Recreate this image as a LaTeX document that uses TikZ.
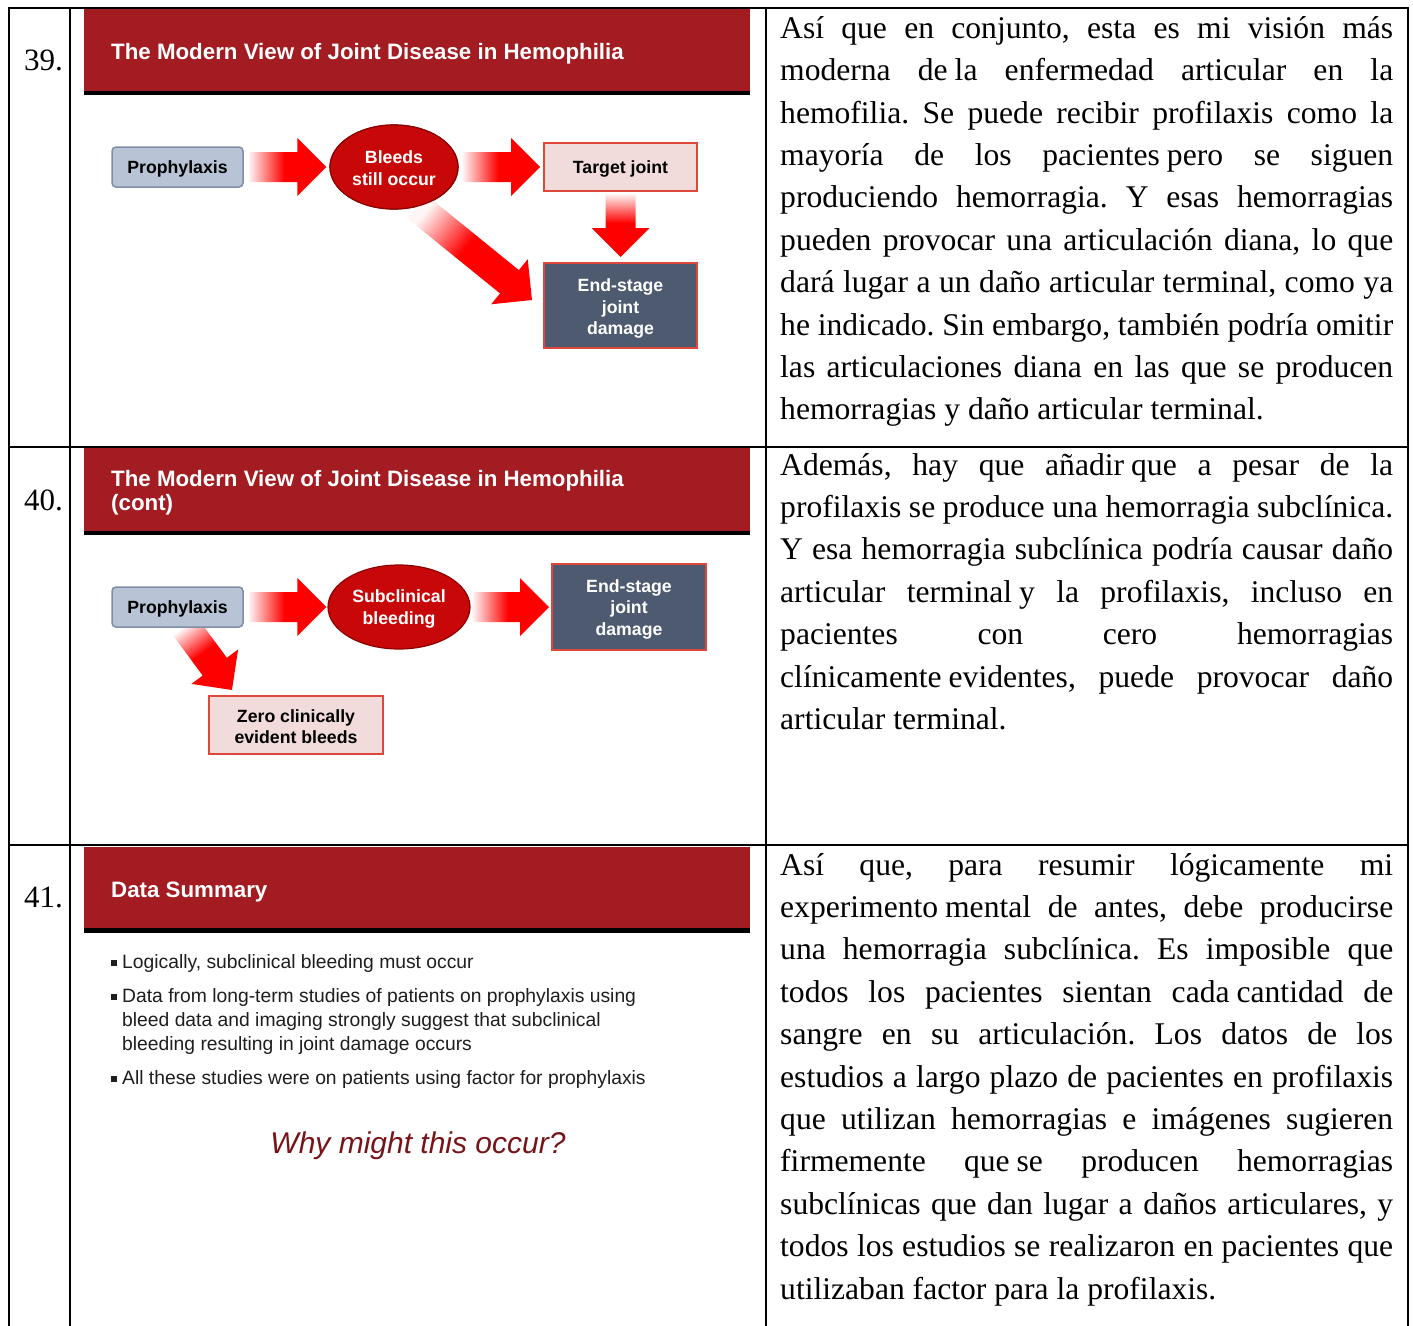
\documentclass[tikz,border=0pt]{standalone}
\usepackage{fontspec}
\setmainfont{Liberation Serif}
\newfontfamily\arial{Liberation Sans}
\usetikzlibrary{calc,shapes.geometric}
\frenchspacing
\definecolor{bandred}{RGB}{162,28,34}
\definecolor{boxblue}{RGB}{184,196,214}
\definecolor{boxblueline}{RGB}{128,142,163}
\definecolor{pinkfill}{RGB}{242,220,219}
\definecolor{boxred}{RGB}{222,72,60}
\definecolor{slate}{RGB}{77,90,112}
\definecolor{bleedred}{RGB}{200,8,8}
\definecolor{bleedline}{RGB}{140,0,0}
\definecolor{arrred}{RGB}{255,0,0}
\definecolor{whyred}{RGB}{120,20,24}
\definecolor{bullettext}{RGB}{30,30,30}
\pgfdeclarehorizontalshading{fadearrow}{100bp}{color(0bp)=(arrred!4); color(25bp)=(arrred!4); color(36bp)=(arrred!50); color(48bp)=(arrred); color(100bp)=(arrred)}
\newcommand{\J}[1]{\makebox[613pt][s]{#1}}
\newcommand{\dn}[2]{\raisebox{-#1}[\height][\depth]{#2}}
\newcommand{\fatarrow}[3]{%
  \coordinate (fah) at ($(#2)!29pt!(#1)$);
  \shade[shading=fadearrow, shading angle=#3]
    ($(#1)!15pt!90:(#2)$) -- ($(fah)!15pt!90:(#2)$) -- ($(fah)!29pt!90:(#2)$) -- (#2)
    -- ($(fah)!29pt!-90:(#2)$) -- ($(fah)!15pt!-90:(#2)$) -- ($(#1)!15pt!-90:(#2)$) -- cycle;
}
\newcommand{\bul}{\makebox[11pt][l]{\rule[2.5pt]{5.5pt}{5.5pt}}}
\tikzset{
  sp/.style={anchor=base west, inner sep=0pt, font=\fontsize{31.6}{38}\selectfont},
  num/.style={anchor=base west, inner sep=0pt, font=\fontsize{31}{38}\selectfont},
  band/.style={fill=bandred},
  bandline/.style={fill=black},
  slidetitle/.style={anchor=base west, inner sep=0pt, text=white, font=\arial\bfseries\fontsize{22.3}{24}\selectfont},
  lbl/.style={font=\arial\bfseries\fontsize{17.7}{21.5}\selectfont, align=center, inner sep=0pt},
  probox/.style={lbl, rounded corners=4pt, fill=boxblue, draw=boxblueline, line width=1.5pt, minimum width=131pt, minimum height=40pt},
  pinkbox/.style={lbl, fill=pinkfill, draw=boxred, line width=2pt},
  slatebox/.style={lbl, fill=slate, draw=boxred, line width=2pt, text=white},
  bleed/.style={lbl, ellipse, fill=bleedred, draw=bleedline, line width=1.2pt, text=white},
  bullet/.style={anchor=base west, inner sep=0pt, text=bullettext, font=\arial\fontsize{19.3}{24}\selectfont},
  grid/.style={line width=2pt, black}
}
\begin{document}
\begin{tikzpicture}[x=1pt, y=-1pt]
\useasboundingbox (0,0) rectangle (1413,1325);
\fill[white] (0,0) rectangle (1413,1325);

% ---------- slide 39 ----------
\fill[band] (84,9) rectangle (750,91);
\fill[bandline] (84,91) rectangle (750,95);
\node[slidetitle] (t39) at (111,59) {The Modern View of Joint Disease in Hemophilia};

\node[probox] (pro39) at (177.5,167) {\dn{2pt}{Prophylaxis}};
\node[pinkbox, minimum width=153pt, minimum height=48pt] (tgt39) at (620.5,167) {\dn{2pt}{Target joint}};
\node[slatebox, minimum width=153pt, minimum height=85pt] (end39) at (620.5,305.5) {\dn{3pt}{End-stage}\\\dn{3pt}{joint}\\\dn{3pt}{damage}};
\node[bleed, minimum width=128pt, minimum height=84pt] (ell39) at (394,167) {};

\coordinate (a1s) at ($(pro39.east)+(5,0)$);
\coordinate (a1e) at ($(ell39.west)+(-3,0)$);
\coordinate (a2s) at ($(ell39.east)+(4,0)$);
\coordinate (a2e) at ($(tgt39.west)+(-3,0)$);
\coordinate (a3s) at ($(tgt39.south)+(0,2)$);
\coordinate (a3e) at ($(end39.north)+(0,-5)$);
\coordinate (a4s) at (ell39.-60);
\coordinate (a4e) at ($(end39.west)+(-11,-5.5)$);
\fatarrow{a1s}{a1e}{0}
\fatarrow{a2s}{a2e}{0}
\fatarrow{a3s}{a3e}{-90}
\fatarrow{a4s}{a4e}{-39}
\node[bleed, minimum width=128pt, minimum height=84pt] (ell39b) at (394,167) {\dn{1pt}{Bleeds}\\\dn{1pt}{still occur}};

% ---------- slide 40 ----------
\fill[band] (84,448) rectangle (750,531);
\fill[bandline] (84,531) rectangle (750,535);
\node[slidetitle] (t40) at (111,486) {The Modern View of Joint Disease in Hemophilia};
\node[slidetitle] (t40b) at (111,510) {(cont)};

\node[slatebox, minimum width=154pt, minimum height=86pt] (end40) at (629,607) {\dn{2pt}{End-stage}\\\dn{2pt}{joint}\\\dn{2pt}{damage}};
\node[pinkbox, minimum width=174pt, minimum height=58pt] (zero) at (296,725) {\dn{1.5pt}{Zero clinically}\\\dn{1.5pt}{evident bleeds}};
\coordinate (a7s) at ($(177.5,627)+(8,0)$);
\coordinate (a7e) at ($(zero.north west)+(24,-5)$);
\fatarrow{a7s}{a7e}{-53}
\node[probox] (pro40) at (177.5,607) {\dn{2pt}{Prophylaxis}};
\node[bleed, minimum width=142pt, minimum height=84pt] (ell40) at (399,607) {\dn{2pt}{Subclinical}\\\dn{2pt}{bleeding}};
\coordinate (a5s) at ($(pro40.east)+(5,0)$);
\coordinate (a5e) at ($(ell40.west)+(-1,0)$);
\coordinate (a6s) at ($(ell40.east)+(2,0)$);
\coordinate (a6e) at ($(end40.west)+(-2,0)$);
\fatarrow{a5s}{a5e}{0}
\fatarrow{a6s}{a6e}{0}

% ---------- slide 41 ----------
\fill[band] (84,847) rectangle (750,928);
\fill[bandline] (84,928) rectangle (750,933);
\node[slidetitle] (t41) at (111,897) {Data Summary};
\node[bullet] (b1) at (111,968) {\bul Logically, subclinical bleeding must occur};
\node[bullet] (b2) at (111,1002) {\bul Data from long-term studies of patients on prophylaxis using};
\node[bullet] (b2b) at (122,1026) {bleed data and imaging strongly suggest that subclinical};
\node[bullet] (b2c) at (122,1050) {bleeding resulting in joint damage occurs};
\node[bullet] (b3) at (111,1084) {\bul All these studies were on patients using factor for prophylaxis};
\node[anchor=base, inner sep=0pt, text=whyred, font=\arial\itshape\fontsize{30}{34}\selectfont] (why) at (418,1153) {Why might this occur?};

% ---------- numbers ----------
\node[num] (n39) at (24,70) {39.};
\node[num] (n40) at (24,510) {40.};
\node[num] (n41) at (24,907) {41.};

% ---------- right column text ----------
\node[sp] (p1a) at (780,38.3) {\J{Así que en conjunto, esta es mi visión más}};
\node[sp] (p1b) at (780,80.7) {\J{moderna de\hspace{7pt}la enfermedad articular en la}};
\node[sp] (p1c) at (780,123.1) {\J{hemofilia. Se puede recibir profilaxis como la}};
\node[sp] (p1d) at (780,165.5) {\J{mayoría de los pacientes\hspace{7pt}pero se siguen}};
\node[sp] (p1e) at (780,207.9) {\J{produciendo hemorragia. Y esas hemorragias}};
\node[sp] (p1f) at (780,250.3) {\J{pueden provocar una articulación diana, lo que}};
\node[sp] (p1g) at (780,292.7) {\J{dará lugar a un daño articular terminal, como ya}};
\node[sp] (p1h) at (780,335.1) {\J{he indicado. Sin embargo, también podría omitir}};
\node[sp] (p1i) at (780,377.5) {\J{las articulaciones diana en las que se producen}};
\node[sp] (p1j) at (780,419.9) {hemorragias y daño articular terminal.};

\node[sp] (p2a) at (780,475) {\J{Además, hay que añadir\hspace{7pt}que a pesar de la}};
\node[sp] (p2b) at (780,517.4) {\J{profilaxis se produce una hemorragia subclínica.}};
\node[sp] (p2c) at (780,559.8) {\J{Y esa hemorragia subclínica podría causar daño}};
\node[sp] (p2d) at (780,602.2) {\J{articular terminal\hspace{7pt}y la profilaxis, incluso en}};
\node[sp] (p2e) at (780,644.6) {\J{pacientes con cero hemorragias}};
\node[sp] (p2f) at (780,687) {\J{clínicamente\hspace{7pt}evidentes, puede provocar daño}};
\node[sp] (p2g) at (780,729.4) {articular terminal.};

\node[sp] (p3a) at (780,875) {\J{Así que, para resumir lógicamente mi}};
\node[sp] (p3b) at (780,917.4) {\J{experimento\hspace{7pt}mental de antes, debe producirse}};
\node[sp] (p3c) at (780,959.8) {\J{una hemorragia subclínica. Es imposible que}};
\node[sp] (p3d) at (780,1002.2) {\J{todos los pacientes sientan cada\hspace{7pt}cantidad de}};
\node[sp] (p3e) at (780,1044.6) {\J{sangre en su articulación. Los datos de los}};
\node[sp] (p3f) at (780,1087) {\J{estudios a largo plazo de pacientes en profilaxis}};
\node[sp] (p3g) at (780,1129.4) {\J{que utilizan hemorragias e imágenes sugieren}};
\node[sp] (p3h) at (780,1171.8) {\J{firmemente que\hspace{7pt}se producen hemorragias}};
\node[sp] (p3i) at (780,1214.2) {\J{subclínicas que dan lugar a daños articulares, y}};
\node[sp] (p3j) at (780,1256.6) {\J{todos los estudios se realizaron en pacientes que}};
\node[sp] (p3k) at (780,1299) {utilizaban factor para la profilaxis.};

% ---------- table rules ----------
\draw[grid] (9,1326) -- (9,8) -- (1408,8) -- (1408,1326);
\draw[grid] (70,8) -- (70,1326);
\draw[grid] (766,8) -- (766,1326);
\draw[grid] (9,447) -- (1408,447);
\draw[grid] (9,845) -- (1408,845);
\end{tikzpicture}
\end{document}
